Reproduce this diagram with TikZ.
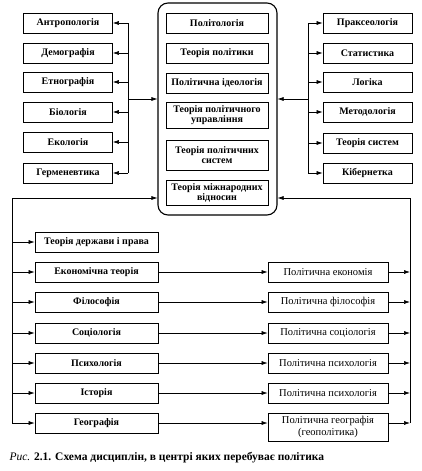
\documentclass[tikz,border=0pt]{standalone}
\usepackage{fontspec}
\setmainfont{Liberation Serif}
\usetikzlibrary{arrows.meta}

\begin{document}
\begin{tikzpicture}[x=1pt, y=-1pt,
  >={Latex[length=6pt, width=4pt]},
  box/.style={draw, line width=0.7pt, minimum height=20pt, inner sep=1pt, align=center, font=\fontsize{10}{10.5}\selectfont\bfseries},
  side/.style={box, minimum width=89pt},
  inner/.style={box, minimum width=102pt},
  wide/.style={box, minimum width=123pt},
  pol/.style={box, minimum width=120pt, font=\fontsize{10.5}{11.5}\selectfont},
  core/.style={draw, line width=1.1pt, rounded corners=10pt, minimum width=119pt, minimum height=212pt},
  link/.style={line width=0.6pt}
]
  \useasboundingbox (0,0) rectangle (421,471);

  % central block
  \node[core] (core) at (217.5,109) {};
  \node[inner] (c1) at (217,23) {Політологія};
  \node[inner] (c2) at (217,53) {Теорія політики};
  \node[inner] (c3) at (217,83) {Політична ідеологія};
  \node[inner, minimum height=26pt] (c4) at (217,115) {Теорія політичного\\управління};
  \node[inner, minimum height=30pt] (c5) at (217,155) {Теорія політичних\\систем};
  \node[inner, minimum height=25pt] (c6) at (217,193) {Теорія міжнародних\\відносин};

  % left and right columns
  \foreach \i/\y/\t in {1/23/Антропологія, 2/53/Демографія, 3/82/Етнографія,
                        4/112/Біологія, 5/142/Екологія, 6/173/Герменевтика}
    \node[side] (l\i) at (68,\y) {\t};
  \foreach \i/\y/\t in {1/23/Праксеологія, 2/53/Статистика, 3/82/Логіка,
                        4/112/Методологія, 5/143/Теорія систем, 6/173/Кібернетка}
    \node[side] (r\i) at (367.5,\y) {\t};

  \foreach \i in {1,...,6} {
    \coordinate (lb\i) at (128,0 |- l\i);
    \coordinate (rb\i) at (308,0 |- r\i);
    \draw[link, ->] (lb\i) -- (l\i);
    \draw[link, ->] (rb\i) -- (r\i);
  }
  \draw[link] (lb1) -- (lb6);
  \draw[link] (rb1) -- (rb6);
  \coordinate (lmid) at (128,99);
  \coordinate (rmid) at (308,99);
  \draw[link, ->] (lmid) -- (lmid -| core.west);
  \draw[link, ->] (rmid) -- (rmid -| core.east);

  % lower part
  \foreach \i/\y/\t in {1/242/Теорія держави і права, 2/272/Економічна теорія,
                        3/302/Філософія, 4/333/Соціологія, 5/363/Психологія,
                        6/393/Історія, 7/423/Географія}
    \node[wide] (g\i) at (96.5,\y) {\t};
  \foreach \i/\y/\t in {2/272/Політична економія, 3/302/Політична філософія,
                        4/333/Політична соціологія, 5/363/Політична психологія,
                        6/393/Політична психологія}
    \node[pol] (p\i) at (328,\y) {\t};
  \node[pol, minimum height=28pt] (p7) at (328,427) {Політична географія\\(геополітика)};

  \coordinate (bl) at (12,198);
  \coordinate (br) at (410,198);
  \draw[link, ->] (bl) -- (bl -| core.west);
  \draw[link, ->] (br) -- (br -| core.east);
  \draw[link] (bl) -- (12,0 |- g7);
  \draw[link] (br) -- (410,0 |- g7);
  \foreach \i in {1,...,7}
    \draw[link, ->] (12,0 |- g\i) -- (g\i);
  \foreach \i in {2,...,7} {
    \draw[link, ->] (g\i) -- (g\i -| p\i.west);
    \draw[link, ->] (g\i -| p\i.east) -- (410,0 |- g\i);
  }

  \node[anchor=west, font=\fontsize{11.5}{13}\selectfont] (cap) at (6,458)
    {\textit{Рис.} \textbf{2.1. Схема дисциплін, в центрі яких перебуває політика}};
\end{tikzpicture}
\end{document}
